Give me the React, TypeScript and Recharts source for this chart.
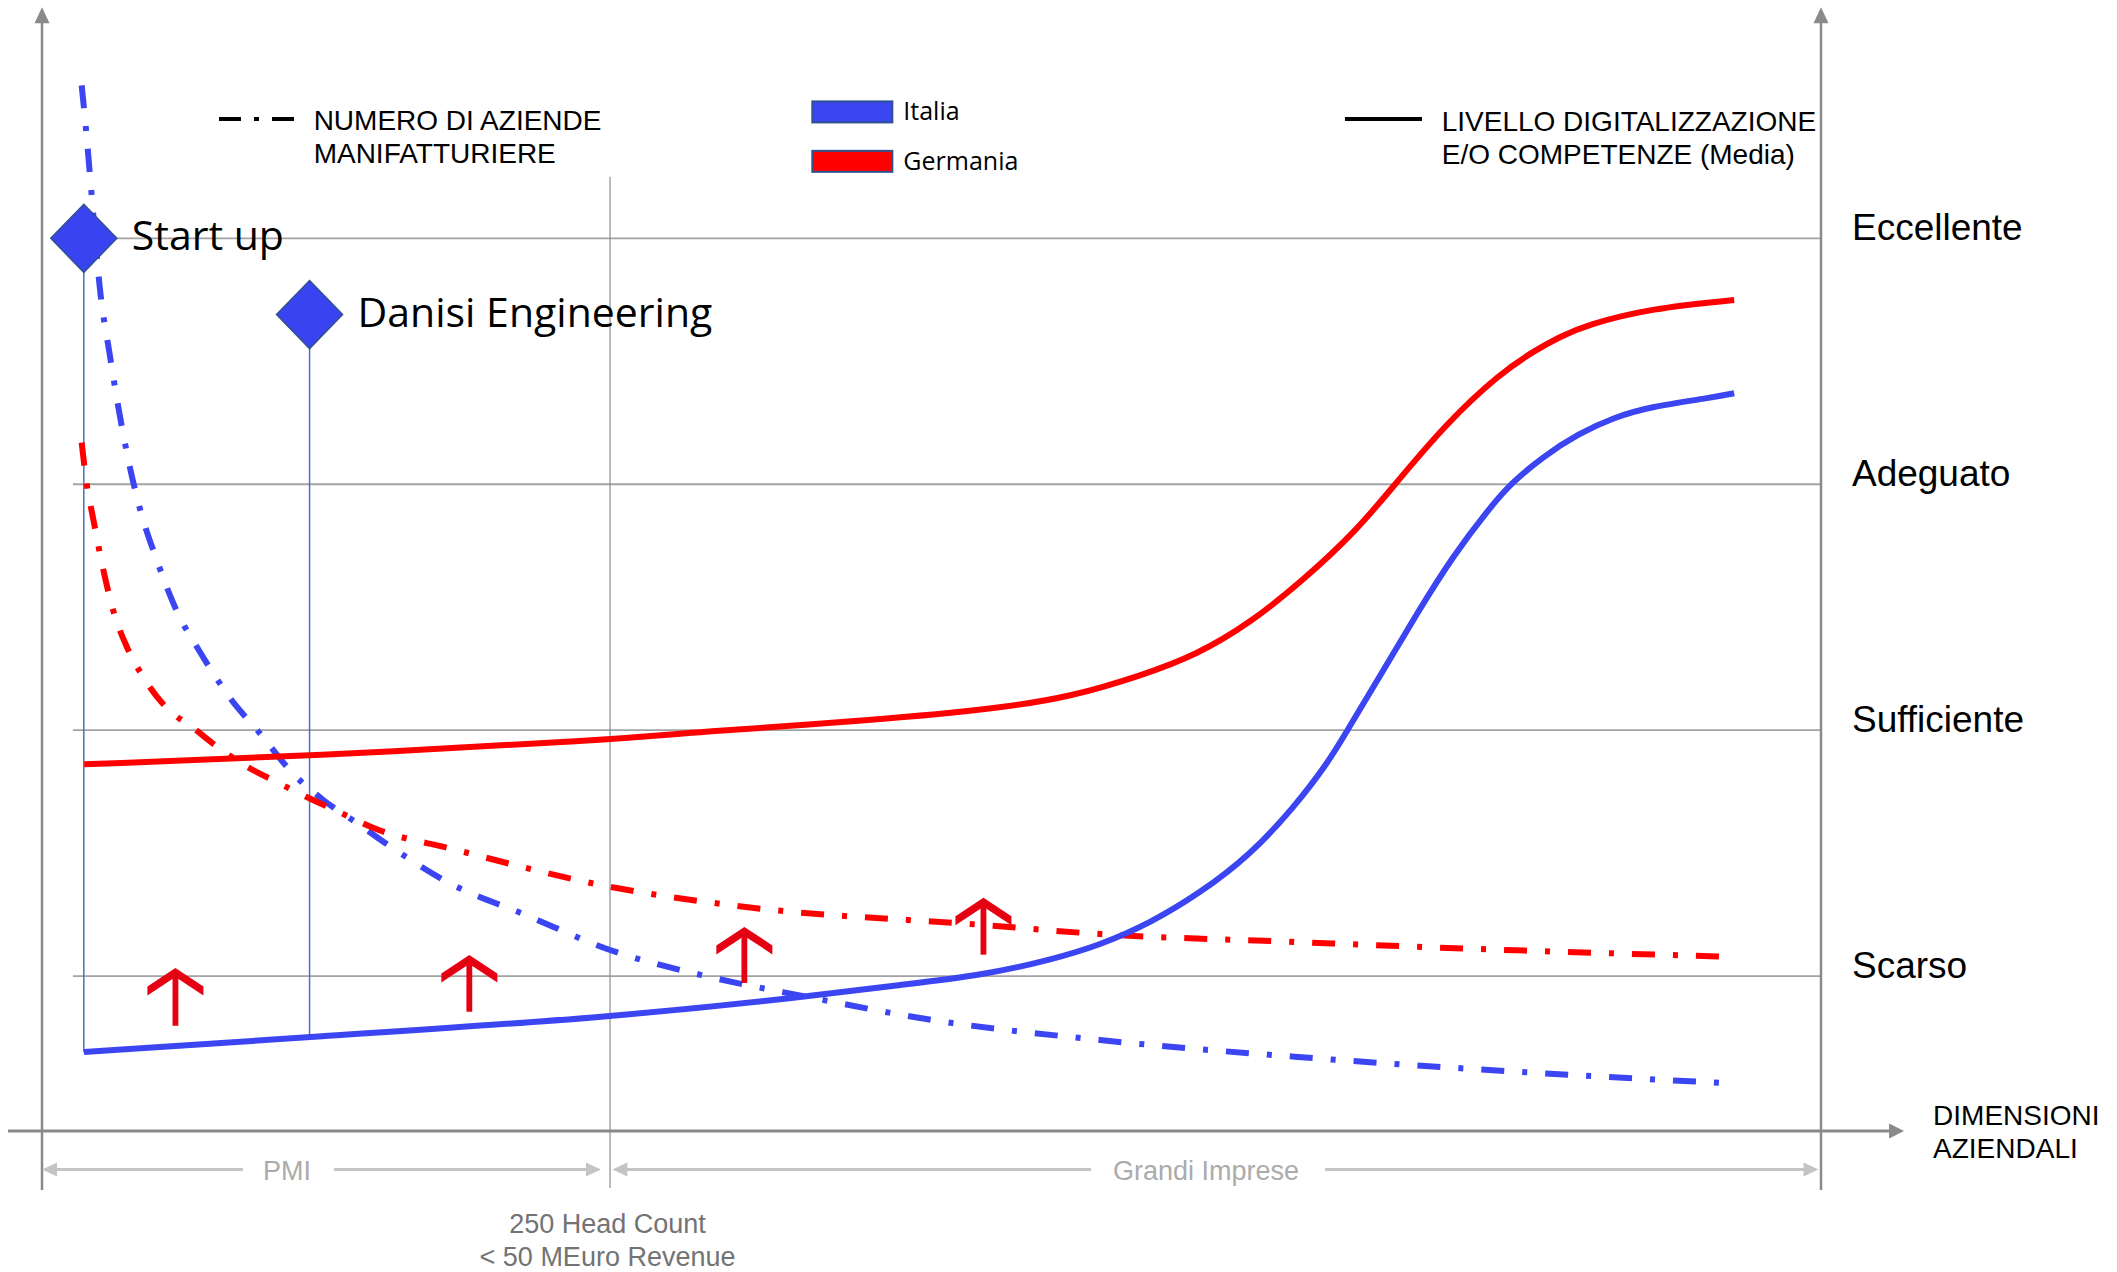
import React from 'react';
import { ComposedChart, Line, XAxis, YAxis, ReferenceLine, ReferenceDot } from 'recharts';

// livelli (asse destro)
const levelValues = [1, 2, 3, 4];
const levelLabels = ['Scarso', 'Sufficiente', 'Adeguato', 'Eccellente'];

// livello digitalizzazione (linea continua): [dimensione, livello]
const italiaLivello: [number, number][] = [
  [2.36, 0.691], [15.03, 0.752], [31.93, 0.831], [42.98, 0.916], [48.23, 0.964], [52.91, 1.004],
  [56.66, 1.065], [59.47, 1.126], [62.28, 1.215], [65.09, 1.337], [67.9, 1.492], [70.32, 1.681],
  [72.32, 1.871], [73.32, 1.993], [75.32, 2.233], [77.34, 2.481], [79.35, 2.712], [81.35, 2.901],
  [82.56, 3.003], [84.37, 3.112], [86.37, 3.206], [88.38, 3.272], [90.39, 3.315], [93.76, 3.351],
  [95.12, 3.37],
];
const germaniaLivello: [number, number][] = [
  [2.37, 1.861], [15.03, 1.895], [31.93, 1.96], [37.07, 1.994], [46.94, 2.041], [53.85, 2.089],
  [57.86, 2.136], [61.88, 2.224], [64.89, 2.306], [67.9, 2.435], [70.92, 2.611], [73.92, 2.814],
  [75.94, 2.99], [78.94, 3.248], [81.96, 3.451], [83.96, 3.546], [85.33, 3.6], [86.81, 3.648],
  [90.46, 3.716], [95.12, 3.749],
];

// numero di aziende manifatturiere (tratto-punto)
const italiaNumero: [number, number][] = [
  [2.23, 4.622], [2.51, 4.414], [2.79, 4.176], [3.26, 3.792], [3.82, 3.522], [4.29, 3.314],
  [4.95, 3.066], [5.51, 2.899], [6.45, 2.692], [7.57, 2.485], [8.88, 2.318], [10.57, 2.131],
  [12.25, 1.987], [14.13, 1.822], [15.81, 1.716], [17.69, 1.623], [19.72, 1.52], [22.88, 1.379],
  [27.21, 1.248], [31.93, 1.106], [37.07, 1.004], [42.98, 0.916], [50.08, 0.821], [59.47, 0.74],
  [70.41, 0.672], [81.34, 0.618], [94.55, 0.565],
];
const germaniaNumero: [number, number][] = [
  [2.23, 3.169], [2.51, 3.003], [2.88, 2.859], [3.45, 2.651], [4.01, 2.485], [4.76, 2.34],
  [5.69, 2.216], [7.01, 2.09], [8.5, 2.009], [10.01, 1.924], [11.51, 1.852], [13.19, 1.789],
  [14.88, 1.728], [16.75, 1.665], [18.93, 1.594], [22.88, 1.52], [31.93, 1.363], [39.44, 1.282],
  [52.84, 1.208], [59.47, 1.171], [70.7, 1.138], [77.68, 1.118], [95.11, 1.078],
];

// frecce rosse (gap da colmare)
const gapX = [7.5, 24.02, 39.48, 52.92];
const gapFrom = [0.798, 0.855, 0.972, 1.087];
const gapTo = [1.033, 1.086, 1.2, 1.319];

// aziende evidenziate
const companyNames = ['Start up', 'Danisi Engineering'];
const companyX = [2.35, 15.04];
const companyY = [4.0, 3.69];
const companyBase = [0.69, 0.752];

const BLUE = '#3B45F2';
const RED = '#FF0000';
const ARROW_RED = '#E50012';
const AXIS = '#8A8A8A';
const ARIAL = "'Liberation Sans', Arial, sans-serif";
const CALIBRI = "'Open Sans', sans-serif";
const DASH_DOT = '23 18 5 18';

const toPoints = (arr: [number, number][]) => arr.map(([x, y]) => ({ x, y }));

const headPoints = (tx: number, ty: number, ang: number, len: number, wid: number) => {
  const bx = tx - len * Math.cos(ang);
  const by = ty - len * Math.sin(ang);
  const nx = (-Math.sin(ang) * wid) / 2;
  const ny = (Math.cos(ang) * wid) / 2;
  return `${tx},${ty} ${bx + nx},${by + ny} ${bx - nx},${by - ny}`;
};

const arrowShape =
  (color: string, width: number, len: number, wid: number, start: boolean, end: boolean) =>
  (p: any) => {
    const { x1, y1, x2, y2 } = p;
    const ang = Math.atan2(y2 - y1, x2 - x1);
    const sx = start ? x1 + len * 0.8 * Math.cos(ang) : x1;
    const sy = start ? y1 + len * 0.8 * Math.sin(ang) : y1;
    const ex = end ? x2 - len * 0.8 * Math.cos(ang) : x2;
    const ey = end ? y2 - len * 0.8 * Math.sin(ang) : y2;
    return (
      <g>
        <line x1={sx} y1={sy} x2={ex} y2={ey} stroke={color} strokeWidth={width} />
        {end && <polygon points={headPoints(x2, y2, ang, len, wid)} fill={color} />}
        {start && <polygon points={headPoints(x1, y1, ang + Math.PI, len, wid)} fill={color} />}
      </g>
    );
  };

const plainLine = (color: string, width: number, dash?: string) => (p: any) => (
  <line x1={p.x1} y1={p.y1} x2={p.x2} y2={p.y2} stroke={color} strokeWidth={width} strokeDasharray={dash} />
);

// freccia rossa verso l'alto (punta a chevron)
const gapArrow = (p: any) => {
  const { x1, y1, x2, y2 } = p;
  const tx = x2;
  const ty = Math.min(y1, y2);
  const by = Math.max(y1, y2);
  const pts = [
    [tx, ty], [tx + 28, ty + 18.5], [tx + 28, ty + 27.5], [tx, ty + 9], [tx - 28, ty + 27.5], [tx - 28, ty + 18.5],
  ].map((q) => q.join(',')).join(' ');
  return (
    <g>
      <rect x={x1 - 2.9} y={ty + 5} width={5.8} height={by - ty - 5} fill={ARROW_RED} />
      <polygon points={pts} fill={ARROW_RED} />
    </g>
  );
};

type TextOpts = {
  size: number;
  color?: string;
  family?: string;
  anchor?: 'start' | 'middle' | 'end';
  lh?: number;
  dx?: number;
  dy?: number;
};

const textShape = (lines: string[], o: TextOpts) => (p: any) => {
  const x = p.cx + (o.dx || 0);
  const y = p.cy + (o.dy || 0);
  return (
    <text
      x={x}
      y={y}
      fontSize={o.size}
      fill={o.color || '#000'}
      fontFamily={o.family || ARIAL}
      textAnchor={o.anchor || 'start'}
    >
      {lines.map((l, i) => (
        <tspan key={i} x={x} dy={i === 0 ? 0 : o.lh || 33}>
          {l}
        </tspan>
      ))}
    </text>
  );
};

const diamond = (p: any) => (
  <polygon
    points={`${p.cx},${p.cy - 34} ${p.cx + 33},${p.cy} ${p.cx},${p.cy + 34} ${p.cx - 33},${p.cy}`}
    fill="#3A43F0"
    stroke="#2F528F"
    strokeWidth={1.5}
  />
);

const legendBox = (fill: string) => (p: any) => (
  <rect x={p.cx - 40} y={p.cy - 11} width={80} height={21} fill={fill} stroke="#2F528F" strokeWidth={2} />
);

const App: React.FC = () => {
  return (
    <div style={{ position: 'absolute', left: 0, top: 0, width: 2117, height: 1272, background: '#fff' }}>
      <ComposedChart width={2117} height={1272} margin={{ top: 17, right: 296, bottom: 141, left: 42 }}>
        <XAxis type="number" dataKey="x" domain={[0, 100]} allowDataOverflow hide />
        <YAxis type="number" domain={[0.37, 4.9]} allowDataOverflow hide />

        {/* griglia orizzontale dei livelli */}
        {levelValues.map((v) => (
          <ReferenceLine
            key={`g${v}`}
            segment={[{ x: 1.74, y: v }, { x: 100, y: v }]}
            ifOverflow="visible"
            shape={plainLine('#A3A3A3', 1.8)}
          />
        ))}

        {/* separazione PMI / Grandi Imprese */}
        <ReferenceLine
          segment={[{ x: 31.93, y: 0.138 }, { x: 31.93, y: 4.25 }]}
          ifOverflow="visible"
          shape={plainLine('#8C8C8C', 1.2)}
        />

        {/* assi */}
        <ReferenceLine
          segment={[{ x: 0, y: 0.13 }, { x: 0, y: 4.94 }]}
          ifOverflow="visible"
          shape={arrowShape(AXIS, 2.5, 16, 15, false, true)}
        />
        <ReferenceLine
          segment={[{ x: 100, y: 0.13 }, { x: 100, y: 4.94 }]}
          ifOverflow="visible"
          shape={arrowShape(AXIS, 2.5, 16, 15, false, true)}
        />
        <ReferenceLine
          segment={[{ x: -1.91, y: 0.37 }, { x: 104.67, y: 0.37 }]}
          ifOverflow="visible"
          shape={arrowShape(AXIS, 3, 15, 15, false, true)}
        />

        {/* linee verticali dalle aziende */}
        {companyNames.map((n, i) => (
          <ReferenceLine
            key={`d${n}`}
            segment={[{ x: companyX[i], y: companyBase[i] }, { x: companyX[i], y: companyY[i] }]}
            ifOverflow="visible"
            shape={plainLine('#4472C4', 1.5)}
          />
        ))}

        <Line data={toPoints(italiaNumero)} dataKey="y" type="monotone" stroke={BLUE} strokeWidth={6} strokeDasharray={DASH_DOT} dot={false} isAnimationActive={false} />
        <Line data={toPoints(germaniaNumero)} dataKey="y" type="monotone" stroke={RED} strokeWidth={6} strokeDasharray={DASH_DOT} dot={false} isAnimationActive={false} />
        <Line data={toPoints(germaniaLivello)} dataKey="y" type="basis" stroke={RED} strokeWidth={6} dot={false} isAnimationActive={false} />
        <Line data={toPoints(italiaLivello)} dataKey="y" type="basis" stroke={BLUE} strokeWidth={6} dot={false} isAnimationActive={false} />

        {/* frecce rosse */}
        {gapX.map((x, i) => (
          <ReferenceLine
            key={`a${i}`}
            segment={[{ x, y: gapFrom[i] }, { x, y: gapTo[i] }]}
            ifOverflow="visible"
            shape={gapArrow}
          />
        ))}

        {/* aziende */}
        {companyNames.map((n, i) => (
          <ReferenceDot key={`c${n}`} x={companyX[i]} y={companyY[i]} r={1} ifOverflow="visible" shape={diamond} />
        ))}
        {companyNames.map((n, i) => (
          <ReferenceDot
            key={`t${n}`}
            x={companyX[i]}
            y={companyY[i]}
            r={1}
            ifOverflow="visible"
            shape={textShape([n], { size: 41, family: CALIBRI, dx: 48, dy: 12 })}
          />
        ))}

        {/* etichette livelli */}
        {levelValues.map((v, i) => (
          <ReferenceDot
            key={`l${v}`}
            x={101.74}
            y={v}
            r={1}
            ifOverflow="visible"
            shape={textShape([levelLabels[i]], { size: 37, dy: 2 })}
          />
        ))}

        {/* legenda */}
        <ReferenceLine
          segment={[{ x: 9.95, y: 4.485 }, { x: 14.22, y: 4.485 }]}
          ifOverflow="visible"
          shape={plainLine('#000', 4, '22 13 5 13')}
        />
        <ReferenceDot x={15.27} y={4.441} r={1} ifOverflow="visible" shape={textShape(['NUMERO DI AZIENDE', 'MANIFATTURIERE'], { size: 28 })} />
        <ReferenceDot x={45.55} y={4.512} r={1} ifOverflow="visible" shape={legendBox(BLUE)} />
        <ReferenceDot x={45.55} y={4.512} r={1} ifOverflow="visible" shape={textShape(['Italia'], { size: 25, family: CALIBRI, dx: 51, dy: 8 })} />
        <ReferenceDot x={45.55} y={4.311} r={1} ifOverflow="visible" shape={legendBox(RED)} />
        <ReferenceDot x={45.55} y={4.311} r={1} ifOverflow="visible" shape={textShape(['Germania'], { size: 25, family: CALIBRI, dx: 51, dy: 8 })} />
        <ReferenceLine
          segment={[{ x: 73.24, y: 4.485 }, { x: 77.57, y: 4.485 }]}
          ifOverflow="visible"
          shape={plainLine('#000', 4)}
        />
        <ReferenceDot
          x={78.68}
          y={4.437}
          r={1}
          ifOverflow="visible"
          shape={textShape(['LIVELLO DIGITALIZZAZIONE', 'E/O COMPETENZE (Media)'], { size: 28 })}
        />

        {/* fasce dimensionali */}
        <ReferenceLine segment={[{ x: 0, y: 0.213 }, { x: 11.3, y: 0.213 }]} ifOverflow="visible" shape={arrowShape('#C4C4C4', 3, 15, 14, true, false)} />
        <ReferenceLine segment={[{ x: 16.41, y: 0.213 }, { x: 31.42, y: 0.213 }]} ifOverflow="visible" shape={arrowShape('#C4C4C4', 3, 15, 14, false, true)} />
        <ReferenceLine segment={[{ x: 32.06, y: 0.213 }, { x: 58.97, y: 0.213 }]} ifOverflow="visible" shape={arrowShape('#C4C4C4', 3, 15, 14, true, false)} />
        <ReferenceLine segment={[{ x: 72.12, y: 0.213 }, { x: 99.86, y: 0.213 }]} ifOverflow="visible" shape={arrowShape('#C4C4C4', 3, 15, 14, false, true)} />
        <ReferenceDot x={13.77} y={0.171} r={1} ifOverflow="visible" shape={textShape(['PMI'], { size: 27, color: '#ABABAB', anchor: 'middle' })} />
        <ReferenceDot x={65.43} y={0.171} r={1} ifOverflow="visible" shape={textShape(['Grandi Imprese'], { size: 27, color: '#ABABAB', anchor: 'middle' })} />
        <ReferenceDot
          x={31.79}
          y={-0.045}
          r={1}
          ifOverflow="visible"
          shape={textShape(['250 Head Count', '< 50 MEuro Revenue'], { size: 27, color: '#737373', anchor: 'middle' })}
        />
        <ReferenceDot
          x={106.3}
          y={0.394}
          r={1}
          ifOverflow="visible"
          shape={textShape(['DIMENSIONI', 'AZIENDALI'], { size: 28 })}
        />
      </ComposedChart>
    </div>
  );
};

export default App;
